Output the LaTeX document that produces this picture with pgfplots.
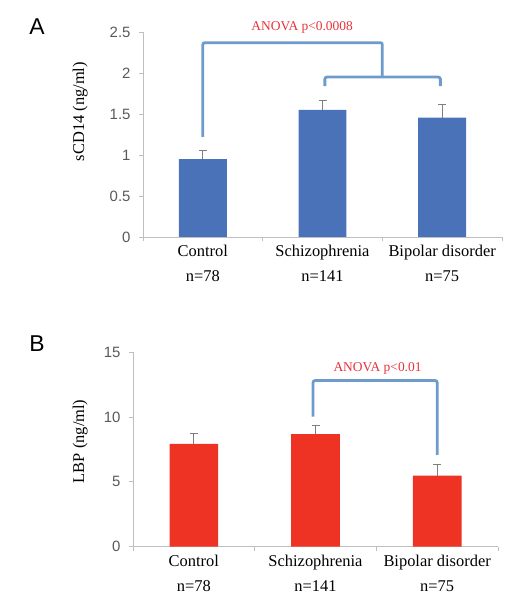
\documentclass[border=0pt]{standalone}
\usepackage{fontspec}
\setmainfont{Liberation Serif}
\setsansfont{Liberation Sans}
\usepackage{pgfplots}
\pgfplotsset{compat=1.18}
\definecolor{barblue}{HTML}{4A72B9}
\definecolor{barred}{HTML}{EE3224}
\definecolor{brack}{HTML}{6D9BCB}
\definecolor{anovared}{HTML}{E8313A}
\definecolor{axgray}{HTML}{BFBFBF}
\definecolor{tickgray}{HTML}{595959}
\definecolor{errgray}{HTML}{7F7F7F}

\pgfplotsset{
  common/.style={
    scale only axis,
    anchor=south west,
    clip=false,
    xmin=-0.5, xmax=2.5, ymin=0,
    axis x line*=bottom, axis y line*=left,
    axis line style={draw=axgray, line width=0.9bp, -},
    tick align=outside,
    xtick={0,1,2},
    minor xtick={-0.5,0.5,1.5,2.5},
    major x tick style={draw=none},
    minor x tick style={draw=axgray, line width=0.9bp},
    y tick style={draw=axgray, line width=0.9bp},
    major tick length=4bp, minor tick length=4bp,
    /pgf/number format/assume math mode=true,
    yticklabel style={font=\sffamily\fontsize{15}{15}\selectfont, text=tickgray, xshift=-5bp},
    xticklabel style={align=center, font=\fontsize{16.5}{24.5}\selectfont, yshift=-1bp},
    xticklabels={{Control\\n=78},{Schizophrenia\\n=141},{Bipolar disorder\\n=75}},
    ylabel style={font=\fontsize{16.5}{16.5}\selectfont, anchor=center, rotate=0},
  },
  errbars/.style={
    error bars/.cd, y dir=plus, y explicit,
    error bar style={draw=errgray, line width=1bp},
    error mark options={rotate=90, draw=errgray, line width=1bp, mark size=4bp},
  },
}

\begin{document}
\begin{tikzpicture}
\useasboundingbox (0,0) rectangle (516bp,599bp);

% Panel A
\begin{axis}[common,
  at={(143bp,362bp)}, width=359bp, height=205bp,
  ymax=2.5, ytick={0,0.5,1,1.5,2,2.5},
  yticklabels={0,0.5,1,1.5,2,2.5},
  ylabel={sCD14 (ng/ml)},
  ylabel style={at={(axis description cs:-0.175,0.612)}},
]
\addplot[ybar, bar width=0.4, fill=barblue, draw=none, errbars]
  table[x=x, y=y, y error=e] {
x y e
0 0.95 0.11
1 1.55 0.12
2 1.455 0.155
};
\addplot[draw=brack, line width=2.8bp, rounded corners=2bp, mark=none]
  coordinates {(0,1.22) (0,2.37) (1.5,2.37) (1.5,1.95)};
\addplot[draw=brack, line width=2.8bp, rounded corners=2bp, mark=none]
  coordinates {(1.02,1.84) (1.02,1.95) (1.985,1.95) (1.985,1.84)};
\node[text=anovared, font=\fontsize{13.5}{13.5}\selectfont] at (axis cs:0.83,2.56) {ANOVA p<0.0008};
\end{axis}

% Panel B
\begin{axis}[common,
  at={(133bp,52.3bp)}, width=365bp, height=194.4bp,
  ymax=15, ytick={0,5,10,15},
  ylabel={LBP (ng/ml)},
  ylabel style={at={(axis description cs:-0.145,0.542)}},
]
\addplot[ybar, bar width=0.4, fill=barred, draw=none, errbars]
  table[x=x, y=y, y error=e] {
x y e
0 7.93 0.82
1 8.68 0.66
2 5.48 0.83
};
\addplot[draw=brack, line width=2.8bp, rounded corners=2bp, mark=none]
  coordinates {(0.98,10.04) (0.98,12.82) (2.0,12.82) (2.0,7.08)};
\node[text=anovared, font=\fontsize{13.5}{13.5}\selectfont] at (axis cs:1.51,13.75) {ANOVA p<0.01};
\end{axis}

\node[font=\sffamily\fontsize{23}{23}\selectfont] at (37bp,572.3bp) {A};
\node[font=\sffamily\fontsize{23}{23}\selectfont] at (37bp,255bp) {B};
\end{tikzpicture}
\end{document}
